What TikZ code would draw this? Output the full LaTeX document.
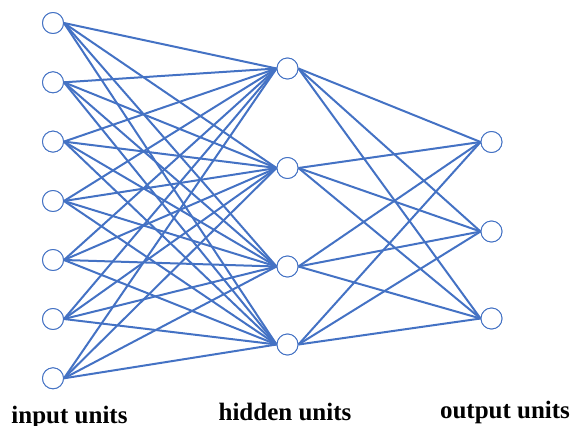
\documentclass[tikz,border=0pt]{standalone}
\usepackage{fontspec}
\setmainfont{Liberation Serif}[BoldFont={Liberation Serif Bold}]
\definecolor{netblue}{RGB}{68,114,196}
\begin{document}
\begin{tikzpicture}[x=1pt,y=-1pt,
  unit/.style={circle,draw=netblue,line width=0.9pt,fill=white,minimum size=21pt,inner sep=0pt},
  link/.style={draw=netblue,line width=2pt},
  caption/.style={anchor=base,font=\fontsize{25}{28}\selectfont\bfseries,inner sep=0pt}]
\useasboundingbox (0,0) rectangle (571,426);
% input layer
\foreach \i/\y in {1/23,2/82.3,3/141.6,4/201,5/260,6/319,7/378.3}
  \node[unit] (i\i) at (53,\y) {};
% hidden layer
\foreach \j/\y in {1/68.5,2/168,3/266.5,4/344.5}
  \node[unit] (h\j) at (287.5,\y) {};
% output layer
\foreach \k/\y in {1/142,2/231.5,3/318.5}
  \node[unit] (o\k) at (491.5,\y) {};
% connections
\foreach \i in {1,...,7}
  \foreach \j in {1,...,4}
    \draw[link] (i\i.east) -- (h\j.west);
\foreach \j in {1,...,4}
  \foreach \k in {1,...,3}
    \draw[link] (h\j.east) -- (o\k.west);
% redraw units over the lines
\foreach \i/\y in {1/23,2/82.3,3/141.6,4/201,5/260,6/319,7/378.3}
  \node[unit] at (53,\y) {};
\foreach \j/\y in {1/68.5,2/168,3/266.5,4/344.5}
  \node[unit] at (287.5,\y) {};
\foreach \k/\y in {1/142,2/231.5,3/318.5}
  \node[unit] at (491.5,\y) {};
% layer captions
\node[caption] (cin) at (69.5,423) {input units};
\node[caption] (chid) at (285,420) {hidden units};
\node[caption] (cout) at (505,418) {output units};
\end{tikzpicture}
\end{document}
